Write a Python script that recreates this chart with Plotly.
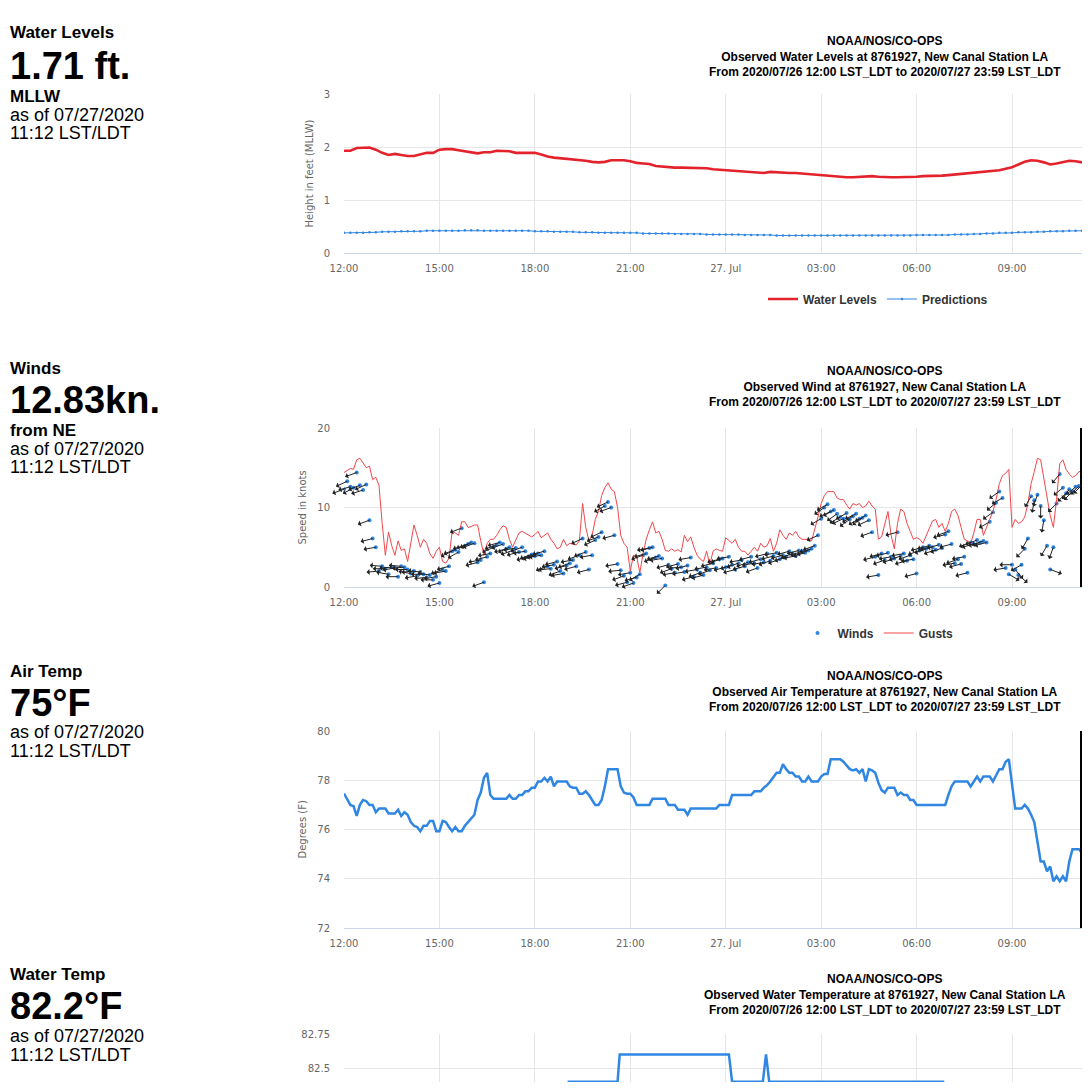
import numpy as np
import pandas as pd
import plotly.graph_objects as go

# The page body keeps the browser's 8px margin, so the figure is 1074 px
# and every reference pixel position R is placed at R - 8 inside the figure.
OFF = 8
FW = FH = 1074
START = "2020-07-26 12:00"
X_END = "2020-07-27 11:12"

tick_vals = ["2020-07-26 12:00", "2020-07-26 15:00", "2020-07-26 18:00", "2020-07-26 21:00",
             "2020-07-27 00:00", "2020-07-27 03:00", "2020-07-27 06:00", "2020-07-27 09:00"]
tick_text = ["12:00", "15:00", "18:00", "21:00", "27. Jul", "03:00", "06:00", "09:00"]

# Water levels (ft MLLW), every 12 min from 12:00
water_levels = [
    1.93, 1.93, 1.98, 1.99, 1.99, 1.95, 1.89, 1.85, 1.87, 1.85,
    1.83, 1.83, 1.86, 1.89, 1.89, 1.95, 1.96, 1.96, 1.94, 1.92,
    1.89, 1.88, 1.90, 1.90, 1.93, 1.93, 1.92, 1.89, 1.89, 1.90,
    1.89, 1.86, 1.82, 1.80, 1.79, 1.77, 1.76, 1.75, 1.74, 1.72,
    1.71, 1.72, 1.75, 1.75, 1.75, 1.73, 1.70, 1.69, 1.68, 1.64,
    1.63, 1.61, 1.61, 1.61, 1.61,
    1.61, 1.61, 1.60, 1.58, 1.57, 1.56, 1.55, 1.54, 1.53, 1.53,
    1.52, 1.51, 1.53, 1.52, 1.52, 1.51, 1.51, 1.50, 1.49, 1.48,
    1.47, 1.45, 1.44, 1.43, 1.43, 1.43, 1.44, 1.45, 1.45, 1.44,
    1.43, 1.43, 1.43, 1.43, 1.44, 1.44, 1.45, 1.45, 1.45, 1.46,
    1.47, 1.48, 1.49, 1.50, 1.51, 1.53, 1.54, 1.55, 1.56, 1.59,
    1.62, 1.67, 1.72, 1.75, 1.74, 1.71, 1.67, 1.69, 1.72, 1.74,
    1.73, 1.71,
]

# Predictions (ft MLLW), every 12 min from 12:00
predictions = [
    0.38, 0.38, 0.38, 0.38, 0.39, 0.39, 0.40, 0.40, 0.40, 0.41,
    0.41, 0.41, 0.41, 0.42, 0.42, 0.42, 0.42, 0.42, 0.42, 0.43,
    0.43, 0.43, 0.42, 0.42, 0.42, 0.42, 0.42, 0.42, 0.42, 0.42,
    0.41, 0.41, 0.41, 0.40, 0.40, 0.40, 0.40, 0.39, 0.39, 0.39,
    0.38, 0.38, 0.38, 0.38, 0.38, 0.38, 0.38, 0.37, 0.37, 0.37,
    0.37, 0.37, 0.36, 0.36, 0.36, 0.36, 0.36, 0.35, 0.35, 0.35,
    0.35, 0.35, 0.35, 0.34, 0.34, 0.34, 0.34, 0.34, 0.33, 0.33,
    0.33, 0.33, 0.33, 0.33, 0.33, 0.33, 0.33, 0.33, 0.33, 0.33,
    0.33, 0.33, 0.33, 0.33, 0.33, 0.33, 0.33, 0.33, 0.33, 0.33,
    0.34, 0.34, 0.34, 0.34, 0.34, 0.34, 0.35, 0.35, 0.35, 0.36,
    0.36, 0.37, 0.37, 0.38, 0.38, 0.38, 0.39, 0.39, 0.39, 0.40,
    0.40, 0.41, 0.41, 0.41, 0.42, 0.42, 0.42, 0.43, 0.43,
]

# Winds: speed (kn), direction from (deg), gusts (kn), every 6 min from 12:00
wind_speed = [
    12.3, 13.3, 12.6, 12.5, 14.4, 12.8, 12.2, 12.9, 8.4, 6.1,
    5.0, 2.0, 2.6, 2.3, 1.6, 2.5, 2.4, 1.3, 2.6, 2.5,
    2.2, 1.7, 2.0, 1.4, 1.9, 1.6, 1.2, 1.5, 0.9, 1.3,
    0.5, 2.2, 2.0, 2.6, 4.5, 4.7, 4.4, 7.4, 5.2, 5.4,
    5.6, 5.5, 3.1, 3.4, 0.6, 3.8, 4.2, 5.0, 5.3, 5.6,
    5.4, 4.8, 5.0, 4.6, 4.9, 4.4, 5.0, 4.5, 3.8, 4.1,
    3.9, 4.2, 4.0, 4.5, 2.6, 2.3, 2.8, 3.2, 2.0, 1.7,
    2.7, 3.0, 3.4, 2.6, 4.0, 6.1, 4.4, 2.2, 4.0, 5.9,
    6.3, 6.9, 10.2, 10.7, 10.0, 6.5, 2.9, 2.1, 1.4, 0.6,
    1.8, 0.5, 1.2, 1.6, 4.0, 4.2, 4.9, 5.0, 3.7, 3.9,
    3.6, 0.2, 2.8, 2.3, 1.8, 2.9, 2.5, 1.9, 2.7, 3.7,
    1.3, 2.2, 1.8, 1.5, 2.5, 2.1, 3.0, 2.4, 3.5, 3.6,
    2.5, 3.8, 2.8, 2.2, 3.0, 3.4, 2.6, 3.1, 3.8, 3.0,
    2.4, 3.5, 3.1, 4.2, 3.3, 3.9, 4.3, 3.5, 4.0, 3.8,
    4.5, 4.2, 3.9, 4.6, 4.5, 4.3, 4.6, 4.8, 5.2, 6.5,
    8.6, 10.0, 10.4, 9.5, 9.7, 9.2, 8.8, 8.6, 9.3, 8.5,
    8.9, 9.2, 8.6, 8.7, 9.0, 8.4, 6.9, 3.8, 1.5, 4.2,
    3.4, 4.3, 3.8, 3.6, 6.9, 3.9, 4.2, 3.3, 4.0, 3.5,
    1.7, 4.6, 5.0, 4.8, 5.2, 5.0, 4.7, 5.3, 4.9, 6.6,
    7.0, 5.4, 3.0, 3.5, 2.9, 3.8, 1.8, 5.6, 5.4, 5.9,
    5.6, 5.8, 5.6, 8.2, 9.4, 10.6, 12.0, 11.2, 2.4, 1.6,
    2.8, 2.2, 1.5, 2.8, 4.8, 6.1, 11.4, 10.9, 11.6, 10.2,
    8.4, 5.2, 2.2, 5.0, 10.5, 14.2, 12.5, 11.8, 12.3, 12.0,
    12.6, 12.7, 12.83,
]

wind_dir = [
    70, 65, 75, 60, 70, 68, 72, 65, 70, 75,
    80, 85, 95, 90, 100, 85, 80, 90, 95, 85,
    90, 100, 85, 80, 95, 90, 85, 100, 90, 80,
    75, 70, 80, 75, 65, 70, 60, 70, 75, 70,
    65, 70, 75, 80, 70, 75, 80, 65, 70, 75,
    70, 75, 65, 70, 80, 75, 70, 80, 75, 70,
    75, 70, 80, 75, 70, 85, 80, 75, 70, 80,
    75, 70, 80, 75, 70, 65, 70, 75, 80, 65,
    70, 65, 60, 65, 70, 75, 80, 85, 70, 75,
    80, 70, 75, 60, 70, 75, 80, 75, 70, 75,
    80, 45, 75, 70, 80, 75, 85, 80, 75, 80,
    75, 80, 70, 75, 80, 70, 75, 80, 75, 70,
    75, 80, 70, 75, 70, 80, 75, 70, 75, 80,
    70, 75, 80, 75, 70, 75, 80, 70, 75, 70,
    75, 70, 80, 75, 70, 75, 70, 75, 70, 65,
    60, 55, 60, 65, 60, 55, 60, 65, 60, 55,
    60, 65, 60, 55, 60, 65, 70, 75, 80, 75,
    70, 75, 80, 70, 75, 70, 80, 75, 70, 80,
    75, 70, 75, 70, 75, 80, 70, 75, 70, 75,
    70, 75, 80, 70, 75, 80, 75, 70, 75, 70,
    75, 70, 75, 60, 55, 50, 55, 60, 80, 300,
    90, 320, 310, 60, 45, 30, 30, 10, 20, 0,
    10, 30, 290, 20, 45, 40, 50, 45, 35, 45,
    50, 45, 45,
]

gusts = [
    14.4, 14.6, 14.9, 14.8, 16.0, 16.2, 15.6, 15.0, 15.2, 13.5,
    13.8, 12.8, 8.0, 4.0, 6.9, 5.2, 4.0, 5.8, 4.6, 4.8,
    3.2, 5.5, 7.8, 6.5, 5.0, 6.0, 5.5, 4.2, 3.6, 4.5,
    5.0, 3.2, 3.0, 3.6, 7.0, 6.8, 6.5, 8.2, 8.2, 7.5,
    7.6, 7.8, 7.8, 5.8, 4.0, 5.5, 6.0, 6.0, 6.5, 7.2,
    7.7, 7.5, 6.0, 5.0, 6.0, 6.8, 7.0, 6.8, 6.5, 6.3,
    6.6, 7.0, 6.2, 6.5, 6.8, 6.0, 5.5, 4.8, 5.0, 6.0,
    5.2, 5.5, 5.4, 5.3, 5.8, 10.5, 7.5, 5.8, 6.5, 8.5,
    9.5, 11.5, 12.5, 13.1, 12.3, 12.0, 10.0, 6.5, 5.5, 5.0,
    2.0, 4.0, 3.8, 1.8, 4.2, 6.0, 7.2, 8.2, 6.8, 7.0,
    6.0, 4.6, 4.5, 4.8, 4.5, 4.7, 4.4, 6.5, 5.7, 6.3,
    5.0, 4.0, 3.5, 3.2, 4.5, 2.8, 4.5, 4.8, 4.6, 4.5,
    6.2, 5.8, 5.5, 6.0, 5.0, 4.5, 4.5, 4.0, 4.5, 5.0,
    4.5, 5.5, 5.0, 5.2, 6.1, 4.5, 5.5, 7.2, 6.5, 6.0,
    6.8, 6.5, 7.0, 6.3, 6.0, 6.0, 6.0, 5.8, 7.2, 8.8,
    10.5, 11.5, 12.0, 12.0, 12.0, 11.2, 11.0, 11.0, 10.3, 9.8,
    10.5, 10.3, 10.5, 10.0, 10.2, 10.8, 10.2, 9.8, 6.0, 6.3,
    7.8, 9.5, 6.5, 4.8, 8.0, 9.8, 9.5, 8.0, 7.0, 6.0,
    6.2, 6.0, 5.5, 6.5, 7.5, 8.3, 8.5, 7.5, 8.0, 7.0,
    8.0, 9.5, 9.8, 9.0, 7.5, 6.0, 5.8, 5.5, 6.8, 8.5,
    8.5, 6.5, 7.5, 8.5, 9.5, 11.0, 13.0, 14.0, 14.3, 14.8,
    7.5, 8.5, 8.0, 8.2, 8.8, 10.5, 13.0, 14.5, 16.2, 16.0,
    13.5, 11.0, 9.0, 7.5, 11.0, 15.5, 16.0, 14.8, 14.2, 13.8,
    14.0, 14.5, 14.6,
]

# Air temperature (F), every 6 min from 12:00
air_temp = [
    77.46, 77.2, 77.0, 76.95, 76.55, 77.0, 77.2, 77.15, 77.0, 77.0,
    76.7, 76.85, 76.85, 76.85, 76.65, 76.65, 76.65, 76.8, 76.55, 76.7,
    76.6, 76.3, 76.15, 76.1, 75.93, 76.15, 76.15, 76.35, 76.35, 75.93,
    75.93, 76.35, 76.3, 76.1, 75.93, 76.1, 75.93, 75.93, 76.15, 76.3,
    76.45, 76.6, 77.2, 77.5, 78.1, 78.3, 77.4, 77.25, 77.25, 77.25,
    77.25, 77.25, 77.4, 77.25, 77.25, 77.4, 77.4, 77.55, 77.55, 77.7,
    77.7, 77.95, 77.95, 78.1, 77.95, 78.15, 77.75, 77.95, 77.95, 77.95,
    77.95, 77.75, 77.7, 77.7, 77.45, 77.45, 77.55, 77.4, 77.2, 77.0,
    77.0, 77.2, 77.75, 78.45, 78.45, 78.45, 78.45, 77.75, 77.5, 77.45,
    77.45, 77.3, 77.0, 77.0, 77.0, 77.0, 77.0, 77.25, 77.25, 77.25,
    77.25, 77.25, 77.0, 77.0, 77.0, 76.8, 76.8, 76.8, 76.6, 76.85,
    76.85, 76.85, 76.85, 76.85, 76.85, 76.85, 76.85, 76.85, 77.0, 77.0,
    77.0, 77.0, 77.4, 77.4, 77.4, 77.4, 77.4, 77.4, 77.4, 77.55,
    77.55, 77.55, 77.7, 77.8, 77.95, 78.15, 78.3, 78.3, 78.65, 78.45,
    78.3, 78.3, 78.15, 78.15, 77.95, 77.95, 78.15, 77.95, 77.95, 77.95,
    78.15, 78.25, 78.25, 78.85, 78.85, 78.85, 78.85, 78.75, 78.6, 78.45,
    78.4, 78.45, 78.3, 78.45, 77.95, 78.45, 78.4, 78.3, 77.9, 77.6,
    77.5, 77.7, 77.7, 77.7, 77.4, 77.5, 77.4, 77.4, 77.2, 77.2,
    77.0, 77.0, 77.0, 77.0, 77.0, 77.0, 77.0, 77.0, 77.0, 77.0,
    77.4, 77.75, 77.95, 77.95, 77.95, 77.95, 77.95, 77.75, 77.95, 78.15,
    77.95, 78.15, 78.15, 78.15, 77.95, 78.2, 78.45, 78.45, 78.75, 78.85,
    77.9, 76.85, 76.85, 76.85, 77.0, 76.85, 76.6, 76.3, 75.5, 74.7,
    74.7, 74.3, 74.5, 73.9, 74.1, 73.9, 74.1, 73.9, 74.7, 75.2,
    75.2, 75.2, 75.05,
]

# Water temperature (F)
water_temp_times = [
    "2020-07-26 12:00", "2020-07-26 18:58", "2020-07-26 19:04", "2020-07-26 20:36",
    "2020-07-26 20:40", "2020-07-27 00:06", "2020-07-27 00:12", "2020-07-27 01:10",
    "2020-07-27 01:16", "2020-07-27 01:22", "2020-07-27 06:50", "2020-07-27 06:56",
    "2020-07-27 11:12",
]
water_temp = [82.2, 82.2, 82.4, 82.4, 82.6, 82.6, 82.4, 82.4, 82.6, 82.4, 82.4, 82.2, 82.2]

titles = [
    "Observed Water Levels at 8761927, New Canal Station LA",
    "Observed Wind at 8761927, New Canal Station LA",
    "Observed Air Temperature at 8761927, New Canal Station LA",
    "Observed Water Temperature at 8761927, New Canal Station LA",
]

# ---------------------------------------------------------------
t6 = pd.date_range(START, periods=len(wind_speed), freq="6min")
t6_air = pd.date_range(START, periods=len(air_temp), freq="6min")
t12 = pd.date_range(START, periods=len(water_levels), freq="12min")
t12p = pd.date_range(START, periods=len(predictions), freq="12min")


def px_x(R):
    return (R - OFF) / FW


def py(R):
    return 1 - (R - OFF) / FH


X0 = 344
panels = [  # (top px, bottom px) in reference coordinates
    (94, 253),
    (428, 587),
    (731, 928),
    (1034, 1082),
]

RED = "#e3222b"
BLUE = "#2f86e3"
GRID = "#e6e6e6"
TICKFONT = dict(family="DejaVu Sans", size=10, color="#666666")

fig = go.Figure()

fig.add_trace(go.Scatter(x=t12, y=water_levels, name="Water Levels", mode="lines",
                         line=dict(color=RED, width=2.6), xaxis="x", yaxis="y", legend="legend"))
fig.add_trace(go.Scatter(x=t12p, y=predictions, name="Predictions", mode="lines+markers",
                         line=dict(color=BLUE, width=1), marker=dict(size=2.5, color=BLUE),
                         xaxis="x", yaxis="y", legend="legend"))
fig.add_trace(go.Scatter(x=t6, y=wind_speed, name="Winds", mode="markers",
                         marker=dict(size=4, color=BLUE), xaxis="x2", yaxis="y2", legend="legend2"))
fig.add_trace(go.Scatter(x=t6, y=gusts, name="Gusts", mode="lines",
                         line=dict(color="#f2464b", width=1), xaxis="x2", yaxis="y2", legend="legend2"))
fig.add_trace(go.Scatter(x=t6_air, y=air_temp, name="Air Temp", mode="lines",
                         line=dict(color=BLUE, width=2.5), xaxis="x3", yaxis="y3", showlegend=False))
fig.add_trace(go.Scatter(x=water_temp_times, y=water_temp, name="Water Temp", mode="lines",
                         line=dict(color=BLUE, width=2.5), xaxis="x4", yaxis="y4", showlegend=False))

yranges = [[0, 3], [0, 20], [72, 80], [82.398, 82.75]]
ytickvals = [[0, 1, 2, 3], [0, 10, 20], [72, 74, 76, 78, 80], [82.5, 82.75]]
yticktext = [["0", "1", "2", "3"], ["0", "10", "20"], ["72", "74", "76", "78", "80"], ["82.5", "82.75"]]

LEGFONT = dict(family="Liberation Sans", size=12, color="#333333", weight="bold")
layout = dict(
    width=FW, height=FH, margin=dict(l=0, r=0, t=0, b=0, autoexpand=False),
    paper_bgcolor="white", plot_bgcolor="white",
    showlegend=True,
    legend=dict(orientation="h", x=px_x(878), xanchor="center", y=py(299), yanchor="middle",
                font=LEGFONT, bgcolor="rgba(0,0,0,0)", itemwidth=30),
    legend2=dict(orientation="h", x=px_x(878), xanchor="center", y=py(633), yanchor="middle",
                 font=LEGFONT, bgcolor="rgba(0,0,0,0)", itemwidth=30),
)

for i, (top, bot) in enumerate(panels):
    sfx = "" if i == 0 else str(i + 1)
    layout["xaxis" + sfx] = dict(
        domain=[px_x(X0), 1.0], anchor="y" + sfx, type="date", automargin=False,
        range=[START, X_END], tickmode="array", tickvals=tick_vals, ticktext=tick_text,
        showgrid=True, gridcolor=GRID, gridwidth=1, zeroline=False,
        showline=True, linecolor="#ccd6eb", linewidth=1, ticks="",
        tickfont=TICKFONT, ticklabelstandoff=6, showticklabels=(i < 3),
    )
    layout["yaxis" + sfx] = dict(
        domain=[py(bot), py(top)], anchor="x" + sfx, range=yranges[i], automargin=False,
        tickmode="array", tickvals=ytickvals[i], ticktext=yticktext[i],
        showgrid=True, gridcolor=GRID, gridwidth=1, zeroline=False, showline=False,
        ticks="", tickfont=TICKFONT, ticklabelstandoff=13,
    )

fig.update_layout(**layout)

annotations = []
title_tops = [32, 362, 667, 970]
for ttl, top in zip(titles, title_tops):
    annotations.append(dict(
        x=px_x(885), y=py(top), xref="paper", yref="paper", xanchor="center", yanchor="top",
        text="NOAA/NOS/CO-OPS<br>" + ttl + "<br>From 2020/07/26 12:00 LST_LDT to 2020/07/27 23:59 LST_LDT",
        showarrow=False, align="center",
        font=dict(family="Liberation Sans", size=12, color="#000000", weight="bold")))

for txt, xpx, (top, bot) in [("Height in feet (MLLW)", 309, panels[0]),
                             ("Speed in knots", 302, panels[1]),
                             ("Degrees (F)", 302, panels[2])]:
    annotations.append(dict(x=px_x(xpx), y=py((top + bot) / 2), xref="paper", yref="paper",
                            xanchor="center", yanchor="middle", textangle=-90, text=txt,
                            showarrow=False, font=dict(family="DejaVu Sans", size=10, color="#666666")))

side_blocks = [
    [("Water Levels", 33, 17, True), ("1.71 ft.", 66, 38, True), ("MLLW", 96, 17, True),
     ("as of 07/27/2020", 115, 18, False), ("11:12 LST/LDT", 133, 18, False)],
    [("Winds", 368, 17, True), ("12.83kn.", 400, 38, True), ("from NE", 430, 17, True),
     ("as of 07/27/2020", 449, 18, False), ("11:12 LST/LDT", 467, 18, False)],
    [("Air Temp", 671, 17, True), ("75°F", 703, 38, True),
     ("as of 07/27/2020", 732, 18, False), ("11:12 LST/LDT", 751, 18, False)],
    [("Water Temp", 974, 17, True), ("82.2°F", 1006, 38, True),
     ("as of 07/27/2020", 1036, 18, False), ("11:12 LST/LDT", 1055, 18, False)],
]
for block in side_blocks:
    for txt, ypx, size, bold in block:
        annotations.append(dict(x=px_x(8), y=py(ypx), xref="paper", yref="paper",
                                xanchor="left", yanchor="middle", text=txt, showarrow=False,
                                font=dict(family="Liberation Sans", size=size, color="#000000",
                                          weight="bold" if bold else "normal")))

# wind direction arrows (pointing where the wind blows to)
L = 14
b = np.deg2rad(np.array(wind_dir, dtype=float) + 180.0)
axs = L * np.sin(b)
ays = -L * np.cos(b)
for ti, sp, axv, ayv in zip(t6, wind_speed, axs, ays):
    annotations.append(dict(x=ti.strftime("%Y-%m-%d %H:%M"), y=sp, xref="x2", yref="y2", text="",
                            showarrow=True, arrowside="start", ax=float(axv), ay=float(ayv),
                            axref="pixel", ayref="pixel", arrowhead=2, arrowsize=1.1,
                            arrowwidth=1, arrowcolor="#222222", standoff=0, startstandoff=0))

edge = 1 - 1.0 / (FW - (X0 - OFF))
shapes = [
    dict(type="line", xref="x2 domain", yref="y2 domain", x0=edge, x1=edge, y0=0, y1=1,
         line=dict(color="#000000", width=2)),
    dict(type="line", xref="x3 domain", yref="y3 domain", x0=edge, x1=edge, y0=0, y1=1,
         line=dict(color="#000000", width=2)),
]

fig.update_layout(annotations=annotations, shapes=shapes)

fig.write_html("out.html", config={"displayModeBar": False})
